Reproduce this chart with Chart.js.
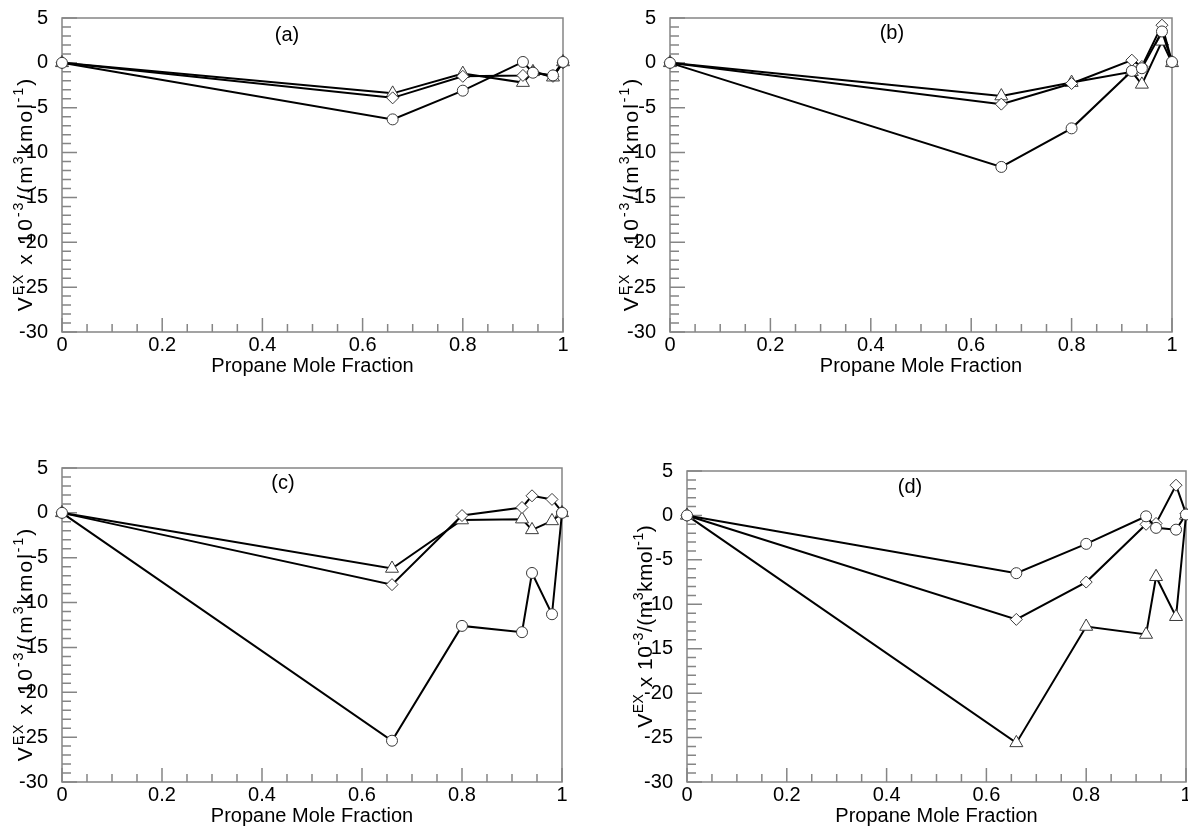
<!DOCTYPE html>
<html>
<head>
<meta charset="utf-8">
<script src="https://cdn.jsdelivr.net/npm/chart.js@4"></script>
<style>
  html, body { margin: 0; padding: 0; background: #ffffff; }
  #page { position: relative; width: 1188px; height: 829px; overflow: hidden; }
  #page canvas { position: absolute; }
</style>
</head>
<body>
<div id="page">
  <canvas id="panelA"></canvas>
  <canvas id="panelB"></canvas>
  <canvas id="panelC"></canvas>
  <canvas id="panelD"></canvas>
</div>
<script>
// Propane mole fractions of the measured mixtures
const propaneFraction = [0, 0.66, 0.80, 0.92, 0.94, 0.98, 1.00];

// Axis tick values
const xTickValues = [0, 0.2, 0.4, 0.6, 0.8, 1];
const yTickValues = [5, 0, -5, -10, -15, -20, -25, -30];

// Panel letters
const panelLetters = ['(a)', '(b)', '(c)', '(d)'];

// Excess molar volume, V^EX x 10^-3 / (m^3 kmol^-1)
const vexA_circle   = [0, -6.3, -3.1,  0.1, -1.1, -1.4,  0.1];
const vexA_diamond  = [0, -3.9, -1.5, -1.4, -1.0, -1.5,  0.0];
const vexA_triangle = [0, -3.4, -1.2, -2.2, -1.0, -1.6,  0.1];

const vexB_circle   = [0, -11.6, -7.3, -0.9, -0.6,  3.5,  0.1];
const vexB_diamond  = [0,  -4.6, -2.3,  0.3, -0.4,  4.2,  0.1];
const vexB_triangle = [0,  -3.7, -2.2, -1.0, -2.4,  2.4,  0.0];

const vexC_circle   = [0, -25.4, -12.6, -13.3, -6.7, -11.3, 0.0];
const vexC_diamond  = [0,  -8.0,  -0.3,   0.6,  1.9,   1.5, 0.1];
const vexC_triangle = [0,  -6.2,  -0.8,  -0.7, -1.9,  -0.9, 0.0];

const vexD_circle   = [0,  -6.5,  -3.2,  -0.1, -1.4, -1.6, 0.1];
const vexD_diamond  = [0, -11.7,  -7.5,  -1.0, -0.9,  3.4, 0.2];
const vexD_triangle = [0, -25.6, -12.5, -13.4, -6.9, -11.4, 0.0];

// Placement of each panel on the page and of its plotting area inside it
const panelLayout = [
  { id: 'panelA', left: 0,   top: 0,   width: 594, height: 414, area: { l: 62, t: 18, r: 563, b: 332 },
    yTitle: { gap: 30, size: 21, sup: 14, spacing: 2, shift: 20 }, letterAt: [0.449, 3.1] },
  { id: 'panelB', left: 594, top: 0,   width: 594, height: 414, area: { l: 76, t: 18, r: 578, b: 332 },
    yTitle: { gap: 32, size: 21, sup: 14, spacing: 2, shift: 20 }, letterAt: [0.442, 3.3] },
  { id: 'panelC', left: 0,   top: 414, width: 594, height: 415, area: { l: 62, t: 54, r: 562, b: 368 },
    yTitle: { gap: 30, size: 21, sup: 14, spacing: 2, shift: 20 }, letterAt: [0.442, 3.3] },
  { id: 'panelD', left: 594, top: 414, width: 594, height: 415, area: { l: 93, t: 57, r: 592, b: 368 },
    yTitle: { gap: 35, size: 21, sup: 14, spacing: 0.5, shift: 0 }, letterAt: [0.447, 3.1] }
];

const panelSeries = [
  [vexA_circle, vexA_diamond, vexA_triangle],
  [vexB_circle, vexB_diamond, vexB_triangle],
  [vexC_circle, vexC_diamond, vexC_triangle],
  [vexD_circle, vexD_diamond, vexD_triangle]
];

const FONT = '"Liberation Sans", Arial, sans-serif';
const FRAME = '#858585';

const markerStyles = [
  { pointStyle: 'circle',   pointRadius: 5.5 },
  { pointStyle: 'rectRot',  pointRadius: 6 },
  { pointStyle: 'triangle', pointRadius: 7.5 }
];

// Y axis title with superscripts
const yTitleParts = [
  { t: 'V' }, { t: 'EX', sup: true }, { t: ' x 10' }, { t: '-3', sup: true },
  { t: '/(m' }, { t: '3', sup: true }, { t: 'kmol' }, { t: '-1', sup: true }, { t: ')' }
];

// Draws the parts centred on the origin, one glyph at a time with extra tracking
function drawRichCentered(ctx, parts, size, supSize, spacing) {
  const glyphs = [];
  parts.forEach(p => {
    for (const ch of p.t) glyphs.push({ ch, sup: !!p.sup });
  });
  let total = 0;
  glyphs.forEach(g => {
    ctx.font = (g.sup ? supSize : size) + 'px ' + FONT;
    g.w = ctx.measureText(g.ch).width;
    total += g.w + spacing;
  });
  total -= spacing;
  let x = -total / 2;
  ctx.textBaseline = 'alphabetic';
  ctx.textAlign = 'left';
  glyphs.forEach(g => {
    ctx.font = (g.sup ? supSize : size) + 'px ' + FONT;
    ctx.fillText(g.ch, x, g.sup ? -size * 0.42 : 0);
    x += g.w + spacing;
  });
}

const panelDecor = {
  id: 'panelDecor',
  beforeDatasetsDraw(chart, args, opts) {
    const ctx = chart.ctx;
    const a = chart.chartArea;
    const xs = chart.scales.x, ys = chart.scales.y;
    ctx.save();
    ctx.strokeStyle = FRAME;
    ctx.lineWidth = 1.5;
    ctx.strokeRect(a.left, a.top, a.right - a.left, a.bottom - a.top);
    ctx.beginPath();
    // inward ticks on the bottom axis: major every 0.2, minor every 0.05
    for (let i = 0; i <= 20; i++) {
      const v = i * 0.05;
      const px = xs.getPixelForValue(v);
      const len = (i % 4 === 0) ? 14 : 8;
      ctx.moveTo(px, a.bottom);
      ctx.lineTo(px, a.bottom - len);
    }
    // inward ticks on the left axis: major every 5, minor every 1
    for (let v = -30; v <= 5; v++) {
      const py = ys.getPixelForValue(v);
      const len = (v % 5 === 0) ? 15 : 9;
      ctx.moveTo(a.left, py);
      ctx.lineTo(a.left + len, py);
    }
    ctx.stroke();
    ctx.restore();
  },
  afterDraw(chart, args, opts) {
    const ctx = chart.ctx;
    const a = chart.chartArea;
    const yt = opts.yTitle;
    ctx.save();
    ctx.fillStyle = '#000';
    // x axis title
    ctx.font = '20px ' + FONT;
    ctx.textAlign = 'center';
    ctx.textBaseline = 'middle';
    ctx.fillText('Propane Mole Fraction', (a.left + a.right) / 2, a.bottom + 34);
    // panel letter
    ctx.fillText(opts.letter,
      chart.scales.x.getPixelForValue(opts.letterAt[0]),
      chart.scales.y.getPixelForValue(opts.letterAt[1]));
    // y axis title
    ctx.translate(a.left - yt.gap, (a.top + a.bottom) / 2 + yt.shift);
    ctx.rotate(-Math.PI / 2);
    drawRichCentered(ctx, yTitleParts, yt.size, yt.sup, yt.spacing);
    ctx.restore();
  }
};

panelLayout.forEach((p, idx) => {
  const canvas = document.getElementById(p.id);
  canvas.style.left = p.left + 'px';
  canvas.style.top = p.top + 'px';
  canvas.width = p.width;
  canvas.height = p.height;
  canvas.style.width = p.width + 'px';
  canvas.style.height = p.height + 'px';

  const datasets = panelSeries[idx].map((vals, k) => ({
    data: vals.map((v, i) => ({ x: propaneFraction[i], y: v })),
    showLine: true,
    borderColor: '#000000',
    borderWidth: 2,
    tension: 0,
    pointStyle: markerStyles[k].pointStyle,
    pointRadius: markerStyles[k].pointRadius,
    pointHoverRadius: markerStyles[k].pointRadius,
    pointBackgroundColor: '#ffffff',
    pointBorderColor: '#3a3a3a',
    pointBorderWidth: 1,
    clip: false
  }));

  new Chart(canvas, {
    type: 'scatter',
    data: { datasets },
    plugins: [panelDecor],
    options: {
      responsive: false,
      animation: false,
      events: [],
      layout: {
        autoPadding: false,
        padding: { left: 0, top: p.area.t, right: p.width - p.area.r, bottom: 0 }
      },
      plugins: {
        legend: { display: false },
        tooltip: { enabled: false },
        panelDecor: { letter: panelLetters[idx], letterAt: p.letterAt, yTitle: p.yTitle }
      },
      scales: {
        x: {
          type: 'linear',
          min: 0, max: 1,
          afterFit: s => { s.height = p.height - p.area.b; },
          afterBuildTicks: s => { s.ticks = xTickValues.map(v => ({ value: v })); },
          grid: { display: false },
          border: { display: false },
          ticks: {
            autoSkip: false,
            maxRotation: 0,
            padding: -7,
            color: '#000',
            font: { family: FONT, size: 20 },
            callback: v => String(+Number(v).toFixed(1))
          }
        },
        y: {
          type: 'linear',
          min: -30, max: 5,
          afterFit: s => { s.width = p.area.l; },
          afterBuildTicks: s => { s.ticks = yTickValues.map(v => ({ value: v })); },
          grid: { display: false },
          border: { display: false },
          ticks: {
            autoSkip: false,
            padding: 6,
            color: '#000',
            font: { family: FONT, size: 20 },
            callback: v => String(v)
          }
        }
      }
    }
  });
});
</script>
</body>
</html>
